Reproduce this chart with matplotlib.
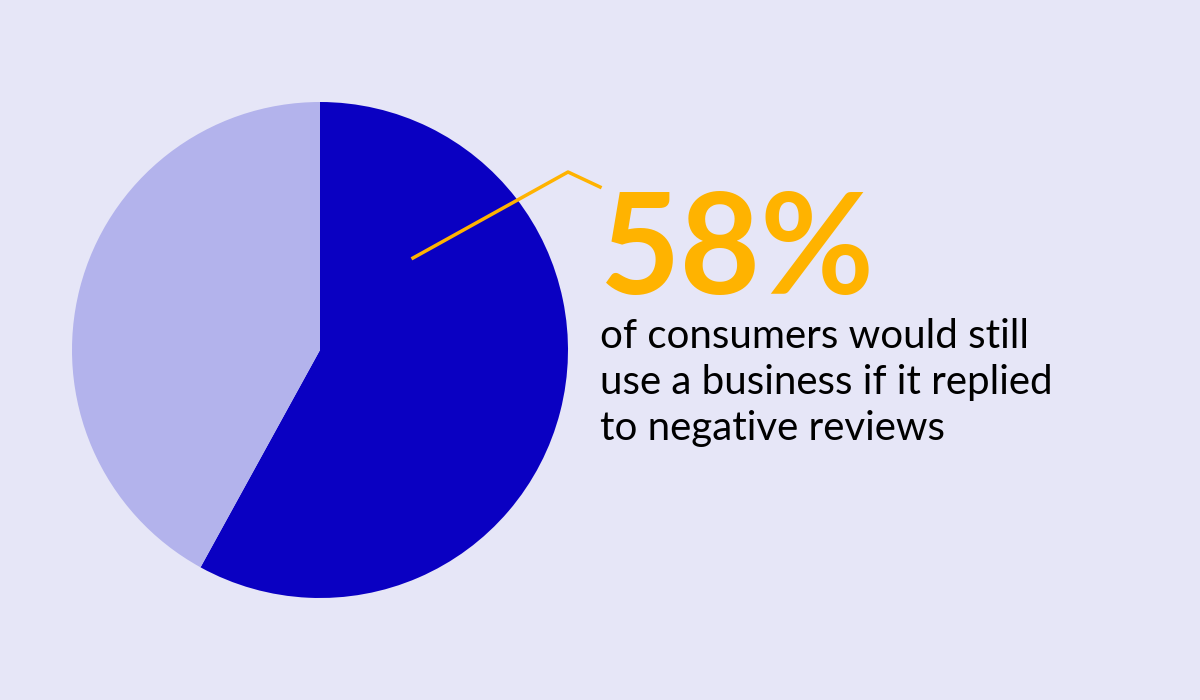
import matplotlib
matplotlib.use("Agg")
import matplotlib.pyplot as plt
from matplotlib.lines import Line2D

labels = ["Would still use", "Would not"]
values = [58, 42]
colors = ["#0A00C2", "#B3B3EC"]
headline = "58%"
caption = "of consumers would still\nuse a business if it replied\nto negative reviews"

bg = "#E6E6F7"
fig = plt.figure(figsize=(12, 7), dpi=100, facecolor=bg)
W, H = 1200, 700
ax = fig.add_axes([(320 - 248) / W, (350 - 248) / H, 496 / W, 496 / H])
ax.pie(values, colors=colors, startangle=90, counterclock=False,
       radius=1, wedgeprops=dict(linewidth=0))
ax.set_xlim(-1, 1)
ax.set_ylim(-1, 1)
ax.set_aspect("equal")
ax.axis("off")

pts = [(413, 258), (568, 172), (600, 187)]
fig.add_artist(Line2D([p[0] / W for p in pts], [1 - p[1] / H for p in pts],
                      color="#FFB300", lw=2.5, transform=fig.transFigure))

fig.text(600 / W, 1 - 294 / H, headline, fontsize=100, color="#FFB300",
         family="Lato", fontweight="bold", va="baseline", ha="left")
fig.text(600 / W, 1 - 318 / H, caption, fontsize=29, color="black",
         family="Lato", va="top", ha="left", linespacing=1.3)

fig.savefig("out.png", dpi=100, facecolor=bg)
